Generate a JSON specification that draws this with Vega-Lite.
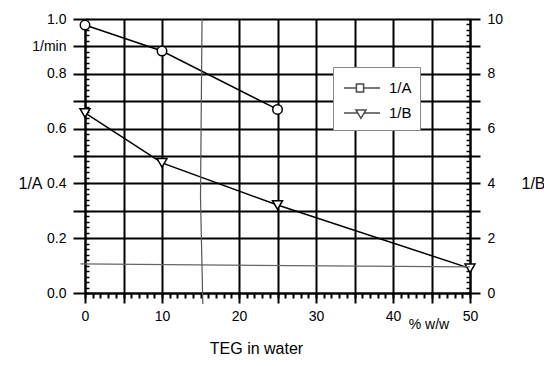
{
  "$schema": "https://vega.github.io/schema/vega-lite/v6.json",
  "width": 385,
  "height": 274,
  "autosize": "none",
  "padding": {"left": 85, "top": 19, "right": 74, "bottom": 73},
  "background": "white",
  "config": {
    "view": {"stroke": null},
    "font": "Liberation Sans",
    "axis": {
      "labelFont": "Liberation Sans", "titleFont": "Liberation Sans",
      "labelFontSize": 14, "titleFontSize": 16, "titleFontWeight": "normal",
      "labelColor": "black", "titleColor": "black",
      "domainColor": "black", "tickColor": "black", "gridColor": "black", "gridOpacity": 1,
      "domainWidth": 2, "tickWidth": 2, "gridWidth": 2,
      "labelFlush": false, "labelOverlap": false
    }
  },
  "datasets": {
    "a": [{"x": 0, "y": 0.978}, {"x": 10, "y": 0.883}, {"x": 25, "y": 0.67}],
    "b": [{"x": 0, "y": 6.57}, {"x": 10, "y": 4.75}, {"x": 25, "y": 3.21}, {"x": 50, "y": 0.9}],
    "h": [{"x": -0.6, "y": 0.106}, {"x": 50, "y": 0.095}],
    "v": [{"x": 15.2, "y": 1.0}, {"x": 15.0, "y": 0.35}, {"x": 15.3, "y": -0.04}],
    "leg": [{"s": "1/A"}, {"s": "1/B"}]
  },
  "layer": [
    {
      "data": {"name": "a"},
      "mark": {"type": "line", "color": "black", "strokeWidth": 1.5,
        "point": {"shape": "circle", "size": 90, "filled": true, "fill": "white", "stroke": "black", "strokeWidth": 1.5}},
      "encoding": {
        "x": {"field": "x", "type": "quantitative", "scale": {"domain": [0, 50], "nice": false, "zero": false},
          "axis": {"orient": "bottom", "values": [0, 5, 10, 20, 25, 30, 35, 40, 45, 50],
            "labelExpr": "datum.value % 10 == 0 ? datum.label : ''",
            "grid": true, "tickSize": 10, "labelPadding": 6,
            "title": "TEG in water", "titleX": 171, "titleY": 55, "titleBaseline": "middle"}},
        "y": {"field": "y", "type": "quantitative", "scale": {"domain": [0, 1], "nice": false, "zero": false},
          "axis": {"orient": "left", "values": [0, 0.2, 0.3, 0.4, 0.5, 0.6, 0.7, 0.8, 0.9, 1],
            "labelExpr": "abs(datum.value-0.9)<0.001 ? '1/min' : (abs(datum.value*5-round(datum.value*5))<0.001 ? format(datum.value,'.1f') : '')",
            "grid": true, "tickSize": 12, "labelPadding": 7,
            "title": "1/A", "titleAngle": 0, "titleAlign": "center", "titleBaseline": "middle",
            "titleX": -55, "titleY": 164}}
      }
    },
    {
      "data": {"name": "b"},
      "mark": {"type": "line", "color": "black", "strokeWidth": 1.5,
        "point": {"shape": "triangle-down", "size": 100, "filled": true, "fill": "white", "stroke": "black", "strokeWidth": 1.5}},
      "encoding": {
        "x": {"field": "x", "type": "quantitative", "scale": {"domain": [0, 50], "nice": false, "zero": false},
          "axis": {"orient": "bottom", "values": [0,1,2,3,4,5,6,7,8,9,10,11,12,13,14,15,16,17,18,19,20,21,22,23,24,25,26,27,28,29,30,31,32,33,34,35,36,37,38,39,40,41,42,43,44,45,46,47,48,49,50],
            "labels": false, "domain": false, "grid": false, "tickSize": 5, "title": null}},
        "y": {"field": "y", "type": "quantitative", "scale": {"domain": [0, 10], "nice": false, "zero": false},
          "axis": {"orient": "right", "values": [0, 2, 3, 4, 5, 6, 7, 8, 9, 10],
            "labelExpr": "datum.value % 2 == 0 ? datum.label : ''",
            "grid": false, "tickSize": 10, "labelPadding": 7,
            "title": "1/B", "titleAngle": 0, "titleAlign": "left", "titleBaseline": "middle",
            "titleX": 51, "titleY": 164}}
      }
    },
    {
      "data": {"name": "h"},
      "mark": {"type": "line", "color": "#666666", "strokeWidth": 1.2, "clip": false},
      "encoding": {
        "x": {"field": "x", "type": "quantitative", "scale": {"domain": [0, 50], "nice": false, "zero": false},
          "axis": {"orient": "bottom", "values": [44.6], "ticks": false, "tickSize": 0, "domain": false, "grid": false,
            "labelExpr": "'% w/w'", "labelFontSize": 14, "labelPadding": 24, "title": null}},
        "y": {"field": "y", "type": "quantitative", "scale": {"domain": [0, 1], "nice": false, "zero": false},
          "axis": {"orient": "left", "values": [0,0.02,0.04,0.06,0.08,0.1,0.12,0.14,0.16,0.18,0.2,0.22,0.24,0.26,0.28,0.3,0.32,0.34,0.36,0.38,0.4,0.42,0.44,0.46,0.48,0.5,0.52,0.54,0.56,0.58,0.6,0.62,0.64,0.66,0.68,0.7,0.72,0.74,0.76,0.78,0.8,0.82,0.84,0.86,0.88,0.9,0.92,0.94,0.96,0.98,1],
            "labels": false, "domain": false, "grid": false, "tickSize": -4, "tickWidth": 1.5, "title": null}}
      }
    },
    {
      "data": {"name": "v"},
      "mark": {"type": "line", "color": "#555555", "strokeWidth": 1.2, "clip": false},
      "encoding": {
        "x": {"field": "x", "type": "quantitative", "scale": {"domain": [0, 50], "nice": false, "zero": false}, "axis": null},
        "y": {"field": "y", "type": "quantitative", "scale": {"domain": [0, 1], "nice": false, "zero": false},
          "axis": {"orient": "right", "values": [0,0.02,0.04,0.06,0.08,0.1,0.12,0.14,0.16,0.18,0.2,0.22,0.24,0.26,0.28,0.3,0.32,0.34,0.36,0.38,0.4,0.42,0.44,0.46,0.48,0.5,0.52,0.54,0.56,0.58,0.6,0.62,0.64,0.66,0.68,0.7,0.72,0.74,0.76,0.78,0.8,0.82,0.84,0.86,0.88,0.9,0.92,0.94,0.96,0.98,1],
            "labels": false, "domain": false, "grid": false, "tickSize": -4, "tickWidth": 1.5, "title": null}},
        "order": {"field": "y", "type": "quantitative", "sort": "descending"}
      }
    },
    {
      "data": {"name": "leg"},
      "mark": {"type": "point", "filled": false, "stroke": "black", "strokeWidth": 1.5},
      "encoding": {
        "x": {"field": "x", "type": "quantitative", "scale": {"domain": [0, 50], "nice": false, "zero": false}, "axis": null},
        "y": {"field": "y", "type": "quantitative", "scale": {"domain": [0, 1], "nice": false, "zero": false}, "axis": null},
        "shape": {"field": "s", "type": "nominal",
          "scale": {"domain": ["1/A", "1/B"], "range": [
            "M-0.83,0H0.2M0.8,0H2.17M0.2,-0.33H0.8V0.33H0.2Z",
            "M-0.83,0H0.31M0.85,0H2.17M0.16,-0.25H1.0L0.58,0.45Z"]},
          "legend": {"orient": "none", "legendX": 248, "legendY": 48, "title": null,
            "symbolSize": 576, "symbolStrokeWidth": 1.5, "symbolStrokeColor": "black", "symbolFillColor": "white",
            "padding": 8, "rowPadding": 4, "labelOffset": 22,
            "labelFont": "Liberation Sans", "labelFontSize": 15, "labelColor": "black",
            "strokeColor": "#888888", "fillColor": "white",
            "labelExpr": "datum.label + '\u00a0\u00a0'",
            "encode": {"symbols": {"update": {"fill": {"value": "white"}, "stroke": {"value": "black"}, "strokeWidth": {"value": 1.5}, "opacity": {"value": 1}}}}}}
      }
    }
  ],
  "resolve": {
    "scale": {"x": "independent", "y": "independent"},
    "axis": {"x": "independent", "y": "independent"}
  }
}
